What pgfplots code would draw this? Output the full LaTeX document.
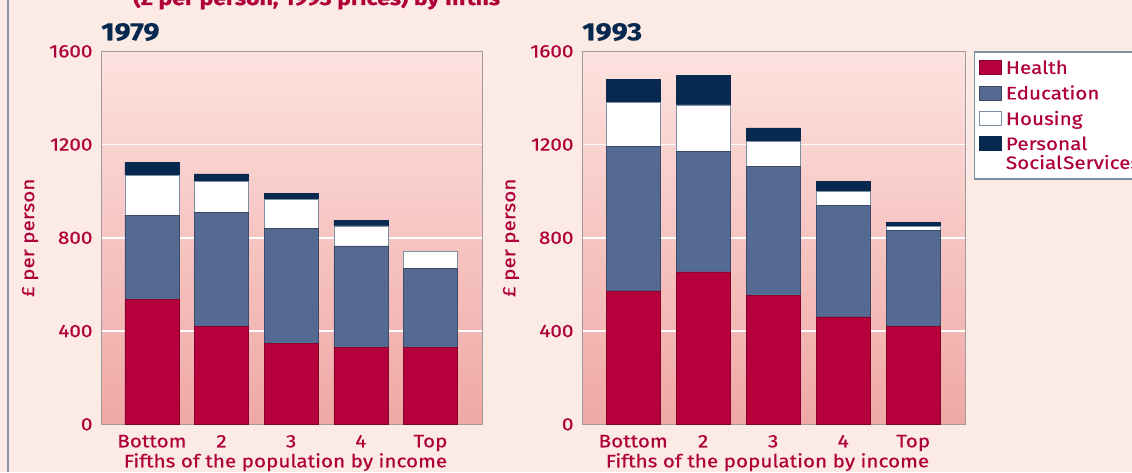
\documentclass[border=0pt]{standalone}
\usepackage{fontspec}
\setmainfont{Fira Sans}[FakeStretch=1.15, FakeBold=0.6]
\usepackage{pgfplots}
\pgfplotsset{compat=1.18}
\definecolor{bg}{HTML}{FCEAE5}
\definecolor{crim}{HTML}{B5003B}
\definecolor{edu}{HTML}{546A93}
\definecolor{navy}{HTML}{08294F}
\definecolor{txt}{HTML}{B0003A}
\definecolor{frame}{HTML}{A09A9E}
\definecolor{shtop}{HTML}{FDE2DF}
\definecolor{shbot}{HTML}{EFA8A5}
\definecolor{legframe}{HTML}{7D8FA3}
\definecolor{leftline}{HTML}{8695A8}
\pgfplotsset{
  chart/.style={
    scale only axis, anchor=south west, height=373pt,
    ybar stacked, bar width=54pt,
    xmin=-0.73, xmax=4.74, ymin=0, ymax=1600,
    xtick={0,...,4}, xticklabels={Bottom,2,3,4,Top},
    ytick={0,400,...,1600},
    major tick length=0pt,
    ymajorgrids, grid style={white, line width=1.5pt},
    axis line style={frame, line width=0.8pt},
    axis background/.style={shade, top color=shtop, bottom color=shbot},
    tick label style={font=\fontsize{18}{20}\selectfont, color=txt},
    /pgf/number format/assume math mode=true,
    /pgf/number format/1000 sep={},
    yticklabel style={anchor=east, xshift=-5pt},
    xticklabel style={anchor=base, yshift=-23pt},
    xlabel={Fifths of the population by income},
    ylabel={£ per person},
    every axis x label/.style={at={(rel axis cs:0.5,0)}, anchor=base, yshift=-43pt, xshift=-6pt, font=\fontsize{18}{20}\selectfont, color=txt},
    every axis y label/.style={at={(rel axis cs:0,0.5)}, xshift=-71pt, rotate=90, anchor=center, font=\fontsize{18}{20}\selectfont, color=txt},
    every axis title/.style={at={(rel axis cs:0,1)}, anchor=base west, yshift=11pt, inner sep=0pt, font=\fontsize{25}{27}\selectfont\bfseries, color=navy},
  },
  sw/.style={legend image code/.code={\draw[##1, line width=0.8pt] (0pt,-0.8pt) rectangle (22pt,13.2pt);}},
  swup/.style={legend image code/.code={\draw[##1, line width=0.8pt] (0pt,18.2pt) rectangle (22pt,32.2pt);}},
  health/.style={fill=crim, draw=crim!75!black, line width=0.6pt, sw},
  educ/.style={fill=edu, draw=edu!70!black, line width=0.6pt, sw},
  hous/.style={fill=white, draw=legframe, line width=0.6pt, sw},
  pss/.style={fill=navy, draw=navy, line width=0.6pt, swup},
}
\begin{document}
\begin{tikzpicture}
\fill[bg] (0,0) rectangle (1132pt,472pt);
\path[use as bounding box] (0,0) rectangle (1132pt,472pt);
\clip (0,0) rectangle (1132pt,472pt);
\node[anchor=base west, text=txt, font=\fontsize{20}{22}\selectfont\bfseries, inner sep=0pt] at (133pt,467pt) {(£ per person, 1993 prices) by fifths};
\draw[leftline, line width=2.5pt] (8pt,0) -- (8pt,472pt);

\begin{axis}[chart, at={(101pt,47.7pt)}, width=381pt, title={1979}]
\addplot[health] coordinates {(0,536) (1,421) (2,348) (3,331) (4,331)};
\addplot[educ]   coordinates {(0,361) (1,489) (2,493) (3,434) (4,337)};
\addplot[hous]   coordinates {(0,171) (1,131) (2,124) (3,86) (4,72)};
\addplot[pss]    coordinates {(0,55) (1,33) (2,27) (3,25) (4,0)};
\end{axis}

\begin{axis}[chart, at={(582pt,47.7pt)}, width=383pt, title={1993},
  legend style={at={(rel axis cs:1,1)}, anchor=north west, xshift=9pt,
    draw=legframe, line width=1.2pt, fill=white, inner xsep=4pt, inner ysep=7pt,
    font=\fontsize{18}{19}\selectfont, text=txt, row sep=7pt, column sep=3pt,
    cells={anchor=base west}, nodes={inner sep=1.5pt, text=txt}}]
\addplot[health] coordinates {(0,572) (1,654) (2,552) (3,461) (4,421)};
\addlegendentry{Health}
\addplot[educ]   coordinates {(0,620) (1,515) (2,555) (3,479) (4,411)};
\addlegendentry{Education}
\addplot[hous]   coordinates {(0,189) (1,201) (2,106) (3,59) (4,18)};
\addlegendentry{Housing}
\addplot[pss]    coordinates {(0,97) (1,127) (2,58) (3,43) (4,17)};
\addlegendentry{\parbox[b]{180pt}{\raggedright Personal\\Social\hspace{1pt}Services}}
\end{axis}
\end{tikzpicture}
\end{document}
